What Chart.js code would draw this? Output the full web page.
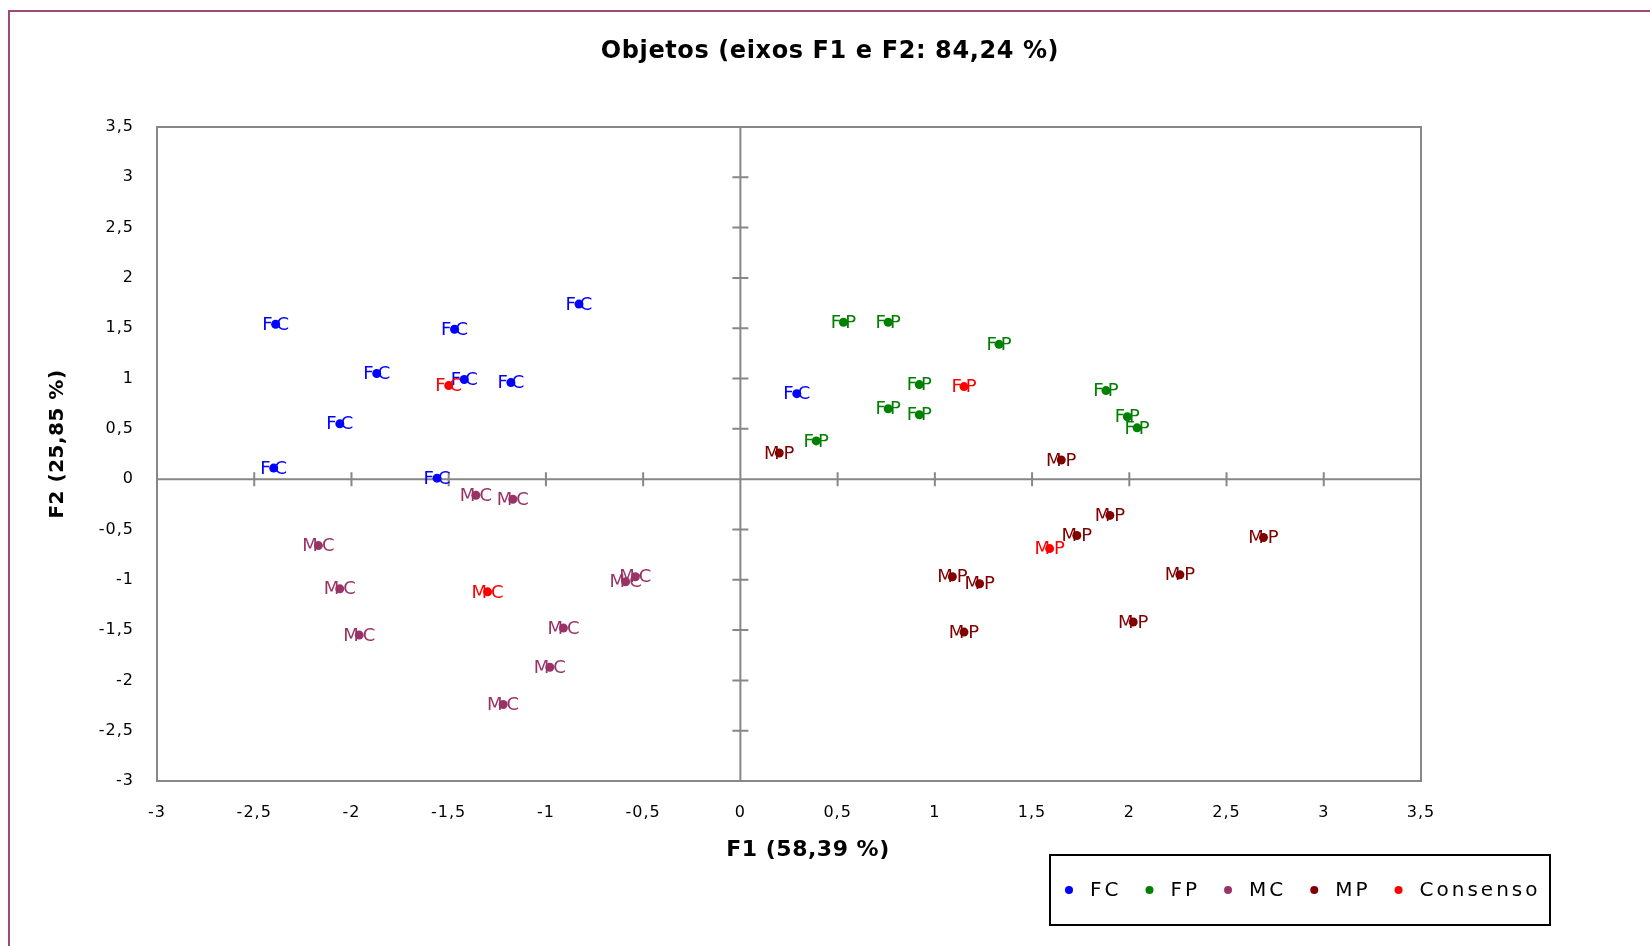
<!DOCTYPE html>
<html lang="pt">
<head>
<meta charset="utf-8">
<title>Objetos (eixos F1 e F2)</title>
<script src="https://cdn.jsdelivr.net/npm/chart.js@4.4.1/dist/chart.umd.min.js"></script>
<style>
  html, body { margin: 0; padding: 0; background: #fff; overflow: hidden; }
  #wrap { position: relative; width: 1650px; height: 946px; }
</style>
</head>
<body>
<div id="wrap"><canvas id="chart" width="1650" height="946"></canvas></div>
<script>
// Scores of the objects on F1 (x) and F2 (y)
const fcPoints = [
  [-2.39, 1.54], [-1.47, 1.49], [-0.83, 1.74], [-1.87, 1.05], [-1.42, 0.99],
  [-1.18, 0.96], [-2.06, 0.55], [-2.40, 0.11], [-1.56, 0.01], [0.29, 0.85]
];
const fpPoints = [
  [0.53, 1.56], [0.76, 1.56], [1.33, 1.34], [0.92, 0.94], [0.76, 0.70],
  [0.92, 0.64], [1.88, 0.88], [1.99, 0.62], [2.04, 0.51], [0.39, 0.38]
];
const mcPoints = [
  [-1.36, -0.16], [-1.17, -0.20], [-2.17, -0.66], [-2.06, -1.09], [-1.96, -1.55],
  [-0.59, -1.02], [-0.54, -0.97], [-0.91, -1.48], [-0.98, -1.87], [-1.22, -2.24]
];
const mpPoints = [
  [0.20, 0.26], [1.65, 0.19], [1.90, -0.36], [1.73, -0.56], [2.69, -0.58],
  [1.09, -0.97], [1.23, -1.04], [2.26, -0.95], [2.02, -1.42], [1.15, -1.52]
];
const consensoPoints = [[-1.50, 0.93], [1.15, 0.92], [-1.30, -1.12], [1.59, -0.69]];
const consensoLabels = ["FC", "FP", "MC", "MP"];

const seriesNames = ["FC", "FP", "MC", "MP", "Consenso"];
const seriesColors = ["#0000ff", "#008000", "#993366", "#800000", "#ff0000"];

const axisMin = -3;
const axisMax = 3.5;
const axisStep = 0.5;

const chartTitle = "Objetos (eixos F1 e F2: 84,24 %)";
const xTitle = "F1 (58,39 %)";
const yTitle = "F2 (25,85 %)";

const axisColor = "#878787";
const frameColor = "#9e4a76";
const fontFamily = '"DejaVu Sans", Verdana, sans-serif';

function toXY(points) {
  return points.map(([x, y]) => ({ x, y }));
}

function decimalComma(value) {
  return String(value).replace(".", ",");
}

const datasets = [fcPoints, fpPoints, mcPoints, mpPoints, consensoPoints].map((points, i) => ({
  label: seriesNames[i],
  data: toXY(points),
  backgroundColor: seriesColors[i],
  pointBackgroundColor: seriesColors[i],
  pointBorderWidth: 0,
  pointRadius: 4.5,
  pointHoverRadius: 4.5,
  pointNames: i === 4 ? consensoLabels : null,
}));

// frame, centred axes, point names, titles and the boxed legend
const decor = {
  id: "decor",
  beforeDraw(chart) {
    const ctx = chart.ctx;
    ctx.save();
    ctx.strokeStyle = frameColor;
    ctx.lineWidth = 2;
    ctx.strokeRect(9, 11, chart.width + 50, chart.height + 50);
    ctx.restore();
    // tick labels are drawn a little spread out
    ctx.letterSpacing = "1px";
  },
  beforeDatasetsDraw(chart) {
    const { ctx, chartArea: a, scales: { x, y } } = chart;
    ctx.save();
    ctx.letterSpacing = "0px";
    ctx.strokeStyle = axisColor;
    ctx.lineWidth = 2;
    ctx.strokeRect(a.left, a.top, a.right - a.left, a.bottom - a.top);

    const x0 = x.getPixelForValue(0);
    const y0 = y.getPixelForValue(0);
    ctx.beginPath();
    ctx.moveTo(a.left, y0);
    ctx.lineTo(a.right, y0);
    ctx.moveTo(x0, a.top);
    ctx.lineTo(x0, a.bottom);
    x.ticks.forEach((t) => {
      const px = x.getPixelForValue(t.value);
      ctx.moveTo(px, y0 - 7);
      ctx.lineTo(px, y0 + 7);
    });
    y.ticks.forEach((t) => {
      const py = y.getPixelForValue(t.value);
      ctx.moveTo(x0 - 8, py);
      ctx.lineTo(x0 + 8, py);
    });
    ctx.stroke();

    ctx.font = "18px " + fontFamily;
    ctx.letterSpacing = "4px";
    ctx.textAlign = "left";
    ctx.textBaseline = "middle";
    chart.data.datasets.forEach((ds, i) => {
      const meta = chart.getDatasetMeta(i);
      ctx.fillStyle = ds.backgroundColor;
      meta.data.forEach((pt, j) => {
        const text = ds.pointNames ? ds.pointNames[j] : ds.label;
        const w = ctx.measureText(text).width - 4;
        ctx.fillText(text, pt.x - w / 2, pt.y + 1);
      });
    });
    ctx.restore();
  },
  afterDraw(chart) {
    const ctx = chart.ctx;
    ctx.save();
    ctx.fillStyle = "#000";
    ctx.textBaseline = "middle";
    ctx.textAlign = "center";

    ctx.font = "bold 24px " + fontFamily;
    ctx.letterSpacing = "0.6px";
    ctx.fillText(chartTitle, 830, 52);

    ctx.font = "bold 22px " + fontFamily;
    ctx.letterSpacing = "0.5px";
    ctx.fillText(xTitle, 808, 850);

    ctx.save();
    ctx.translate(58, 444);
    ctx.rotate(-Math.PI / 2);
    ctx.font = "bold 20px " + fontFamily;
    ctx.fillText(yTitle, 0, 0);
    ctx.restore();

    // legend
    const box = { left: 1050, top: 855, right: 1550, bottom: 925 };
    ctx.lineWidth = 2;
    ctx.strokeStyle = "#000";
    ctx.strokeRect(box.left, box.top, box.right - box.left, box.bottom - box.top);
    ctx.font = "20px " + fontFamily;
    ctx.letterSpacing = "3px";
    ctx.textAlign = "left";
    const cy = (box.top + box.bottom) / 2;
    let cx = box.left + 19;
    chart.data.datasets.forEach((ds) => {
      ctx.fillStyle = ds.backgroundColor;
      ctx.beginPath();
      ctx.arc(cx, cy, 4, 0, Math.PI * 2);
      ctx.fill();
      ctx.fillStyle = "#000";
      ctx.fillText(ds.label, cx + 21, cy + 1);
      cx += 21 + ctx.measureText(ds.label).width + 28;
    });
    ctx.restore();
  },
};

const tickStyle = {
  stepSize: axisStep,
  autoSkip: false,
  maxRotation: 0,
  color: "#000",
  font: { family: fontFamily, size: 16 },
  callback: decimalComma,
};

new Chart(document.getElementById("chart"), {
  type: "scatter",
  data: { datasets },
  options: {
    responsive: false,
    animation: false,
    events: [],
    layout: { padding: { left: 57, top: 127, right: 229, bottom: 105 } },
    plugins: {
      legend: { display: false },
      title: { display: false },
      tooltip: { enabled: false },
    },
    scales: {
      x: {
        type: "linear",
        min: axisMin,
        max: axisMax,
        ticks: { ...tickStyle, padding: 22 },
        grid: { display: false, drawTicks: false },
        border: { display: false },
        afterFit: (scale) => { scale.height = 60; },
      },
      y: {
        type: "linear",
        min: axisMin,
        max: axisMax,
        ticks: { ...tickStyle, padding: 23 },
        grid: { display: false, drawTicks: false },
        border: { display: false },
        afterFit: (scale) => { scale.width = 100; },
      },
    },
  },
  plugins: [decor],
});
</script>
</body>
</html>
